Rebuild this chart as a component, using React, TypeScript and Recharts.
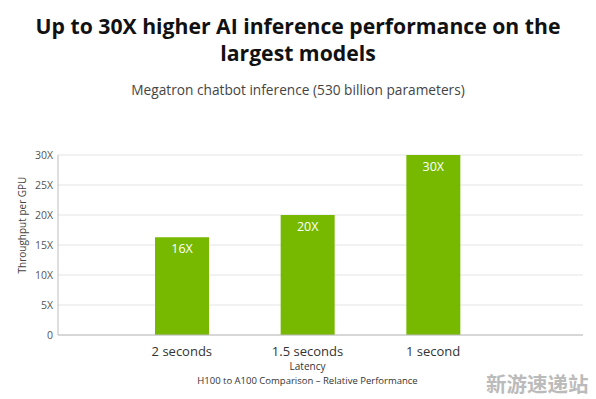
import React from 'react';
import { BarChart, Bar, XAxis, YAxis, CartesianGrid, LabelList } from 'recharts';

const categories = ['2 seconds', '1.5 seconds', '1 second'];
const values = [16.3, 20, 30];
const barLabels = ['16X', '20X', '30X'];
const yTicks = [0, 5, 10, 15, 20, 25, 30];

const data = categories.map((c, i) => ({ name: c, value: values[i], label: barLabels[i] }));

const FONT = '"Open Sans", "Noto Sans", sans-serif';

export default function App() {
  return (
    <div style={{ position: 'absolute', left: 0, top: 0, width: 596, height: 399, background: '#fff', fontFamily: FONT, overflow: 'hidden' }}>
      <div style={{ position: 'absolute', left: 0, top: 12, width: 596, textAlign: 'center', fontWeight: 700, fontSize: 21.2, lineHeight: '27px', color: '#111' }}>
        Up to 30X higher AI inference performance on the<br />largest models
      </div>
      <div style={{ position: 'absolute', left: 0, top: 80, width: 596, textAlign: 'center', fontSize: 13.7, color: '#444' }}>
        Megatron chatbot inference (530 billion parameters)
      </div>
      <div style={{ position: 'absolute', left: 22, top: 225, width: 0, height: 0 }}>
        <div style={{ position: 'absolute', left: -80, top: -7, width: 160, textAlign: 'center', fontSize: 10, color: '#444', transform: 'rotate(-90deg)', whiteSpace: 'nowrap', lineHeight: '14px' }}>
          Throughput per GPU
        </div>
      </div>
      <div style={{ position: 'absolute', left: 0, top: 0 }}>
        <BarChart width={596} height={399} data={data} margin={{ top: 155, right: 13, bottom: 34, left: 0 }}>
          <CartesianGrid horizontal={true} vertical={false} stroke="#e4e4e4" />
          <XAxis
            dataKey="name"
            padding={{ left: 61, right: 87 }}
            tickLine={false}
            tickSize={10}
            axisLine={{ stroke: '#bdbdbd' }}
            tick={{ fill: '#333', fontSize: 13, fontFamily: FONT }}
            height={30}
          />
          <YAxis
            width={58}
            domain={[0, 30]}
            ticks={yTicks}
            tickFormatter={(v: number) => (v === 0 ? '0' : `${v}X`)}
            tickLine={false}
            tickSize={0}
            tickMargin={5}
            axisLine={{ stroke: '#bdbdbd' }}
            tick={{ fill: '#555', fontSize: 10.5, fontFamily: FONT }}
          />
          <Bar dataKey="value" fill="#76b900" barSize={54} isAnimationActive={false}>
            <LabelList
              dataKey="label"
              position="insideTop"
              offset={7}
              style={{ fill: '#fff', fontSize: 12.5, fontFamily: FONT }}
            />
          </Bar>
        </BarChart>
      </div>
      <div style={{ position: 'absolute', left: 100, top: 359, width: 415, textAlign: 'center', fontSize: 10, color: '#333' }}>
        Latency
      </div>
      <div style={{ position: 'absolute', left: 100, top: 374, width: 415, textAlign: 'center', fontSize: 9.5, color: '#333' }}>
        H100 to A100 Comparison – Relative Performance
      </div>
      <div style={{ position: 'absolute', left: 486, top: 368, fontSize: 20.5, fontWeight: 700, color: '#bbbbbb', fontFamily: '"Noto Sans CJK SC", sans-serif', letterSpacing: 0 }}>
        新游速递站
      </div>
    </div>
  );
}
